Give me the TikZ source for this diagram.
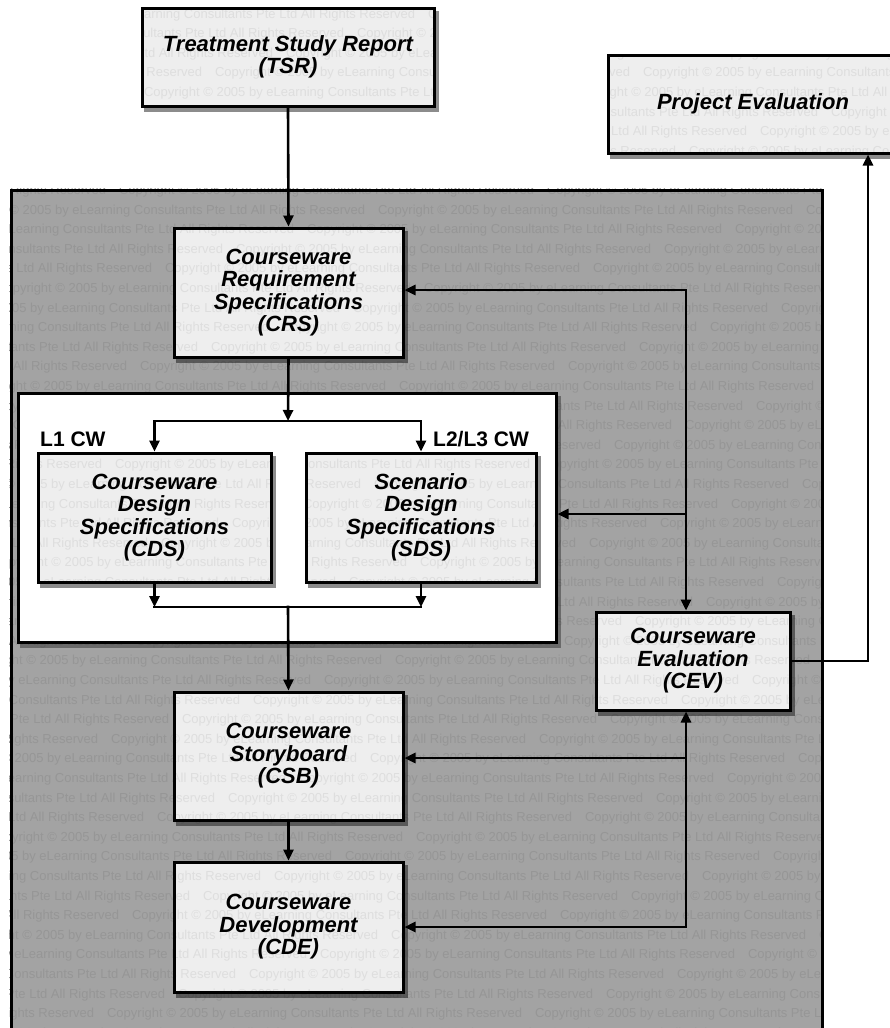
\documentclass[tikz,border=0pt]{standalone}
\usepackage{fontspec}
\setmainfont{Liberation Sans}
\usetikzlibrary{arrows.meta,shadows}

\definecolor{panelgray}{HTML}{A3A3A3}
\definecolor{panelmark}{HTML}{969696}
\definecolor{boxfill}{HTML}{EEEEEE}
\definecolor{boxmark}{HTML}{DEDEDE}

\pgfdeclarelayer{bg}
\pgfdeclarelayer{wm}
\pgfsetlayers{bg,wm,main}

\newcommand\wmline{Copyright \textcopyright\ 2005 by eLearning Consultants Pte Ltd All Rights Reserved\quad}
% rows of faint background lettering in the given colour
\newcommand\wmrows[1]{%
  \foreach \k in {0,...,52}{%
    \pgfmathsetmacro\yy{18+19.6*\k}%
    \pgfmathsetmacro\xx{-mod(\k*71,330)}%
    \node[anchor=base west, inner sep=0pt, text=#1,
          font=\fontsize{13}{13}\selectfont] (mark#1\k) at (\xx,\yy)
          {\wmline\wmline\wmline};
  }}

\begin{document}
\begin{tikzpicture}[x=1pt,y=-1pt,
  box/.style={draw=black, line width=3pt, align=center, inner sep=0pt,
    font=\bfseries\itshape\fontsize{22}{22.5}\selectfont},
  boxbg/.style={fill=boxfill, drop shadow={shadow xshift=3pt, shadow yshift=-4pt,
    fill=black, opacity=0.45}},
  panel/.style={draw=black, line width=3pt, inner sep=0pt},
  tag/.style={anchor=base west, inner sep=0pt, font=\bfseries\fontsize{21}{21}\selectfont},
  link/.style={line width=2.6pt, line cap=rect},
  arr/.style={link, -{Triangle[length=11pt,width=10pt]}}]

\clip (0,0) rectangle (890,1028);

% outer framework panels
\node[panel, minimum width=811pt, minimum height=850pt] (frame) at (416.5,615) {};
\node[panel, minimum width=538pt, minimum height=249pt] (design) at (287,517.5) {};

% process boxes
\node[box, minimum width=292pt, minimum height=98pt] (tsr) at (288,57) {Treatment Study Report\\(TSR)};
\node[box, minimum width=290pt, minimum height=98pt] (pe) at (753,104) {Project Evaluation};
\node[box, minimum width=229pt, minimum height=129pt] (crs) at (288.5,292.5) {Courseware\\Requirement\\Specifications\\(CRS)};
\node[box, minimum width=233pt, minimum height=129pt] (cds) at (154.5,517.5) {Courseware\\Design\\Specifications\\(CDS)};
\node[box, minimum width=230pt, minimum height=129pt] (sds) at (421,517.5) {Scenario\\Design\\Specifications\\(SDS)};
\node[box, minimum width=194pt, minimum height=98pt] (cev) at (693,661) {Courseware\\Evaluation\\(CEV)};
\node[box, minimum width=229pt, minimum height=128pt] (csb) at (288.5,756) {Courseware\\Storyboard\\(CSB)};
\node[box, minimum width=229pt, minimum height=130pt] (cde) at (288.5,927) {Courseware\\Development\\(CDE)};

\node[tag] (l1) at (40,446) {L1 CW};
\node[tag] (l23) at (433,446) {L2/L3 CW};

% fills, shadows and lettering behind the outlines
\begin{pgfonlayer}{bg}
  \fill[panelgray] (frame.north west) rectangle (frame.south east);
  \begin{scope}
    \clip (frame.north west) rectangle (frame.south east);
    \wmrows{panelmark}
  \end{scope}
  \fill[white, drop shadow={shadow xshift=3pt, shadow yshift=-4pt, fill=black, opacity=0.35}]
    (design.north west) rectangle (design.south east);
  \foreach \b in {tsr,pe,crs,cds,sds,cev,csb,cde}{
    \fill[boxbg] (\b.north west) rectangle (\b.south east);
  }
\end{pgfonlayer}
\begin{pgfonlayer}{wm}
  \begin{scope}
    \clip (tsr.north west) rectangle (tsr.south east)
          (pe.north west) rectangle (pe.south east)
          (crs.north west) rectangle (crs.south east)
          (cds.north west) rectangle (cds.south east)
          (sds.north west) rectangle (sds.south east)
          (cev.north west) rectangle (cev.south east)
          (csb.north west) rectangle (csb.south east)
          (cde.north west) rectangle (cde.south east);
    \wmrows{boxmark}
  \end{scope}
\end{pgfonlayer}

% junctions of the connectors
\coordinate (split) at (288,421);
\coordinate (merge) at (288,607);
\coordinate (fa) at (686,290);
\coordinate (fb) at (686,514);
\coordinate (fc) at (686,758);
\coordinate (fd) at (686,927);
\coordinate (px) at (868,0);

% main flow
\draw[arr] (tsr.south) -- (crs.north);
\draw[arr] (crs.south) -- (split);
\draw[arr] (split) -| (cds.north);
\draw[arr] (split) -| (sds.north);
\draw[arr] (cds.south) -- (cds.south |- merge);
\draw[arr] (sds.south) -- (sds.south |- merge);
\draw[link] (cds.south |- merge) -- (sds.south |- merge);
\draw[arr] (merge) -- (csb.north);
\draw[arr] (csb.south) -- (cde.north);

% evaluation feedback
\draw[arr] (fa) -- (fa |- cev.north);
\draw[arr] (fa) -- (fa -| crs.east);
\draw[arr] (fb) -- (fb -| design.east);
\draw[arr] (fd) -- (fd |- cev.south);
\draw[arr] (fc) -- (fc -| csb.east);
\draw[arr] (fd) -- (fd -| cde.east);
\draw[arr] (cev.east) -| (px |- pe.south);
\end{tikzpicture}
\end{document}
